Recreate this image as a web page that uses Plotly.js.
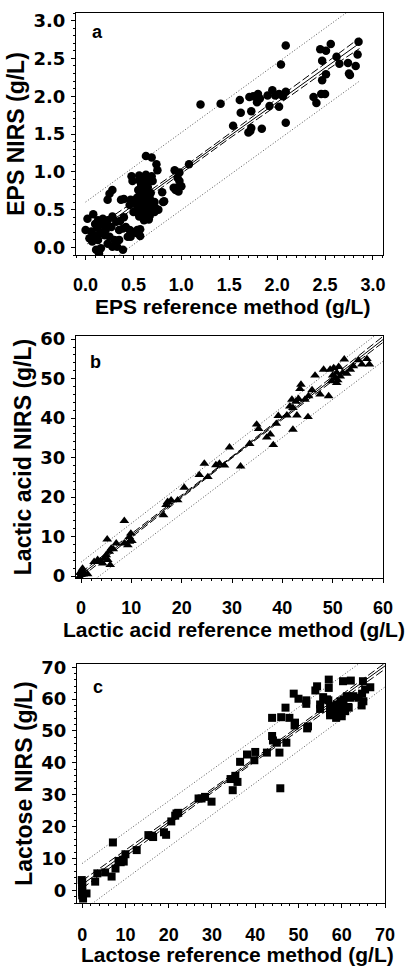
<!DOCTYPE html>
<html><head><meta charset="utf-8">
<script src="https://cdn.plot.ly/plotly-3.0.1.min.js"></script>
<style>html,body{margin:0;padding:0;background:#fff}#chart{width:407px;height:967px}</style>
</head><body><div id="chart"></div>
<script>
// ---------- Panel a: EPS ----------
const epsRef = [1.20,1.41,1.61,1.62,1.54,1.71,1.75,1.80,1.82,1.79,1.90,1.95,1.98,2.02,2.06,2.09,1.92,2.02,1.73,1.84,1.73,1.72,1.70,2.09,2.09,2.04,2.45,2.51,2.56,2.85,2.84,2.62,2.65,2.74,2.82,2.47,2.51,2.47,2.75,2.76,2.38,2.46,2.50,2.41,
1.08,0.93,0.98,0.96,0.98,0.92,0.95,0.97,1.00,0.94,
0.63,0.69,0.74,0.75,0.25,0.23,0.28,0.37,0.46,0.47,0.55,0.58,0.61,0.56,0.65,0.60,0.63,0.58,0.54,0.60,0.65,0.63,0.68,0.72,0.67,0.61,0.56,0.53,0.50,0.68,0.67,0.72,0.81,0.69,
0.02,0.00,0.06,0.09,0.04,0.07,0.13,0.16,0.16,0.13,0.18,0.23,0.28,0.32,0.27,0.21,0.20,0.25,0.30,0.23,0.16,0.28,0.35,0.39,0.42,0.46,0.44,0.35,0.33,0.39,0.11,0.14,0.54,0.47,
0.40,0.48,0.52,0.54,0.48,0.49,0.82,0.80,
0.57,0.60,0.62,0.64,0.66,0.59,0.62,0.57,0.70,0.64,0.60,0.67,0.70,0.56,0.63,0.66,0.58,0.55,0.73,0.76,
0.40,0.36,0.47,0.53,0.57,0.57,0.62,0.66,0.12,0.22,0.10,0.08];
const epsNirs = [1.89,1.90,1.95,1.78,1.61,1.99,2.00,2.03,1.97,1.92,2.01,2.08,2.01,2.03,2.00,2.06,1.87,1.86,1.80,1.57,1.58,1.54,1.52,1.65,2.67,2.42,2.62,2.60,2.69,2.72,2.55,2.52,2.43,2.44,2.40,2.47,2.29,2.21,2.30,2.28,1.99,2.03,2.03,1.91,
1.10,1.02,0.99,0.92,0.88,0.79,0.79,0.74,0.81,0.76,
1.21,1.19,1.10,1.02,0.71,0.63,0.76,0.63,0.56,0.63,0.76,0.83,0.87,0.89,0.80,0.67,0.69,0.61,0.54,0.52,0.56,0.47,0.49,0.47,0.42,0.36,0.41,0.47,0.47,0.72,0.65,0.60,0.60,0.94,
0.38,0.23,0.21,0.16,0.12,0.08,0.10,0.19,0.30,0.36,0.38,0.36,0.41,0.34,0.27,0.23,0.16,0.14,0.10,0.05,-0.01,0.01,0.23,0.25,0.27,0.23,0.14,0.10,0.01,-0.03,-0.03,-0.08,0.23,0.14,
0.64,0.59,0.63,0.66,0.94,0.88,0.61,0.73,
0.72,0.78,0.75,0.62,0.70,0.57,0.55,0.64,0.55,0.84,0.92,0.92,0.88,0.95,0.96,0.52,0.45,0.58,0.52,0.50,
0.40,0.35,0.22,0.19,0.24,0.15,0.41,0.37,0.26,0.30,0.31,0.44];
const epsLineX = [0.02,0.5,1.0,1.5,2.0,2.5,2.86];
const epsFit = [0.12,0.56,1.01,1.47,1.92,2.38,2.70];
const epsCiUp = [0.19,0.60,1.04,1.50,1.96,2.43,2.77];
const epsCiLo = [0.05,0.52,0.98,1.44,1.88,2.33,2.63];
const epsPiX = [0.0,2.86];
const epsPiUp = [0.60,3.23];
const epsPiLo = [-0.42,2.20];

// ---------- Panel b: Lactic acid ----------
const lacRef = [0.3,0.0,-0.3,0.7,1.3,0.0,0.4,-0.2,
2.6,3.3,4.0,4.3,4.6,5.0,5.3,5.6,6.0,5.8,5.2,7.0,8.6,9.6,9.6,9.3,8.6,6.4,3.8,10.1,9.9,
16.4,16.9,17.2,17.9,19.2,20.5,23.5,24.5,25.2,26.8,27.5,28.5,29.5,31.7,
33.5,34.9,35.3,36.9,37.6,38.2,38.8,39.2,40.9,41.5,42.1,41.9,42.7,43.2,42.1,42.9,43.5,43.7,44.5,45.2,45.1,45.9,46.5,48.2,49.2,49.5,50.2,50.8,51.5,50.5,49.8,50.8,52.3,53.5,54.1,55.1,55.8,56.8,57.3,51.0,52.0,50.0,51.2,52.8,47.5];
const lacNirs = [1.9,1.1,-0.2,0.7,0.5,0.3,0.4,0.8,
3.6,4.1,3.6,3.2,4.5,5.3,4.1,6.2,7.0,2.8,9.3,8.3,8.3,8.7,9.9,7.8,14.0,6.8,3.6,8.9,10.8,
15.4,18.0,18.8,19.2,19.2,22.4,25.6,28.5,25.1,28.1,28.5,28.0,32.6,27.8,
33.5,38.4,37.3,35.1,35.9,33.2,38.6,40.6,40.7,43.0,42.6,44.7,44.2,44.9,37.1,40.7,47.4,48.5,44.7,45.6,40.3,47.1,50.8,52.3,45.6,52.3,52.7,51.5,50.6,50.2,49.4,48.9,54.9,52.3,53.2,54.7,53.6,55.0,53.6,49.6,51.5,50.8,53.0,51.3,46.0];
const lacLineX = [0,30,60];
const lacFit = [0.3,30.1,59.9];
const lacCiUp = [0.9,30.3,60.7];
const lacCiLo = [-0.3,29.9,59.2];
const lacPiX = [0,60];
const lacPiUp = [3.5,62.5];
const lacPiLo = [-3.5,54.4];

// ---------- Panel c: Lactose ----------
const lctRef = [0,0,0,0,0,0.2,1.0,-0.1,
3.0,3.5,5.3,6.8,7.1,7.7,8.4,8.9,9.4,10.0,9.6,
12.6,15.3,16.1,16.4,18.9,19.4,20.6,21.8,22.2,21.5,26.9,27.6,28.4,29.9,34.3,34.8,35.4,35.9,36.5,38.1,39.8,40.0,42.7,
43.9,43.9,44.1,45.0,45.6,45.8,46.0,47.2,47.0,47.9,48.9,49.1,49.2,50.0,51.8,51.8,52.2,52.0,54.3,53.9,55.0,55.7,56.6,57.0,57.0,
57.3,58.1,58.9,59.7,60.4,61.2,62.0,62.7,57.3,58.1,59.0,60.0,60.8,61.6,58.7,59.7,60.3,62.1,64.9,63.9,64.7,65.4,66.6,65.0,56.9,55.0,57.3,60.0,61.5,64.6];
const lctNirs = [2.6,1.6,0.5,-0.6,-1.6,-2.6,-1.0,3.2,
2.7,5.3,5.6,4.3,15.0,6.8,9.2,8.8,9.6,11.3,9.0,
12.6,17.3,17.1,16.7,18.2,17.4,21.6,24.1,24.3,23.4,28.8,28.8,29.3,27.8,34.9,31.4,35.9,34.0,40.3,42.6,40.8,43.4,43.2,
54.1,48.4,47.0,46.3,43.2,32.0,54.3,46.3,57.3,54.1,61.7,51.7,52.6,60.1,59.6,58.5,51.4,50.8,64.0,62.7,58.3,60.6,59.9,66.1,63.5,
57.8,57.3,58.3,59.3,59.9,60.9,60.4,60.9,55.7,55.2,56.2,54.6,56.2,57.3,54.1,56.7,65.6,65.8,65.6,60.4,61.7,63.0,63.7,59.3,59.6,56.9,54.9,58.0,57.5,58.0];
const lctLineX = [0,35,70];
const lctFit = [1.8,36.1,70.4];
const lctCiUp = [3.0,36.6,71.3];
const lctCiLo = [0.6,35.6,69.4];
const lctPiX = [0,70];
const lctPiUp = [8.4,77.0];
const lctPiLo = [-6.5,63.8];

// ---------- Texts ----------
const xTitles = ['EPS reference method (g/L)', 'Lactic acid reference method (g/L)', 'Lactose reference method (g/L)'];
const yTitles = ['EPS NIRS (g/L)', 'Lactic acid NIRS (g/L)', 'Lactose NIRS (g/L)'];
const panelLabels = ['a', 'b', 'c'];

const F = 'Liberation Sans, Arial, sans-serif';
const FY = 'DejaVu Sans, sans-serif';
const W = 407, H = 967;

function lineTrace(x, y, xa, ya, dash, color){
  return {x, y, xaxis:xa, yaxis:ya, type:'scatter', mode:'lines', hoverinfo:'skip',
    line:{color:color||'#000', width:1, dash:dash}, showlegend:false};
}
function pts(x, y, xa, ya, sym, size){
  return {x, y, xaxis:xa, yaxis:ya, type:'scatter', mode:'markers', showlegend:false,
    marker:{symbol:sym, size:size, color:'#000', line:{width:0}}};
}
const dashed = '8px,3px';
const dotted = '1px,2px';
const traces = [
  lineTrace(epsPiX, epsPiUp, 'x', 'y', dotted, '#555'),
  lineTrace(epsPiX, epsPiLo, 'x', 'y', dotted, '#555'),
  lineTrace(epsLineX, epsCiUp, 'x', 'y', dashed),
  lineTrace(epsLineX, epsCiLo, 'x', 'y', dashed),
  lineTrace(epsLineX, epsFit, 'x', 'y', 'solid'),
  pts(epsRef, epsNirs, 'x', 'y', 'circle', 8.5),

  lineTrace(lacPiX, lacPiUp, 'x2', 'y2', dotted, '#555'),
  lineTrace(lacPiX, lacPiLo, 'x2', 'y2', dotted, '#555'),
  lineTrace(lacLineX, lacCiUp, 'x2', 'y2', dashed),
  lineTrace(lacLineX, lacCiLo, 'x2', 'y2', dashed),
  lineTrace(lacLineX, lacFit, 'x2', 'y2', 'solid'),
  pts(lacRef, lacNirs, 'x2', 'y2', 'triangle-up', 8.5),

  lineTrace(lctPiX, lctPiUp, 'x3', 'y3', dotted, '#555'),
  lineTrace(lctPiX, lctPiLo, 'x3', 'y3', dotted, '#555'),
  lineTrace(lctLineX, lctCiUp, 'x3', 'y3', dashed),
  lineTrace(lctLineX, lctCiLo, 'x3', 'y3', dashed),
  lineTrace(lctLineX, lctFit, 'x3', 'y3', 'solid'),
  pts(lctRef, lctNirs, 'x3', 'y3', 'square', 8)
];

function tfont(s, fam){ return {family:fam||F, size:s, color:'#000', weight:'bold'}; }
const minorOf = d => ({dtick:d, ticks:'outside', ticklen:2, tickcolor:'#000'});
function axis(o){
  return Object.assign({
    showgrid:false, zeroline:false, showline:true, linecolor:'#000', linewidth:1, mirror:true,
    ticks:'outside', ticklen:4, tickwidth:1, tickcolor:'#000', tick0:0,
    automargin:false, fixedrange:true
  }, o);
}
const xt = tfont(18, F), yt = tfont(18, FY);

function ann(text, x, y, size, extra){
  return Object.assign({text, x:x/W, y:1-y/H, xref:'paper', yref:'paper', showarrow:false,
    font:tfont(size), xanchor:'center', yanchor:'middle'}, extra||{});
}

const layout = {
  width:W, height:H, margin:{l:0,r:0,t:0,b:0}, paper_bgcolor:'#fff', plot_bgcolor:'#fff', showlegend:false,
  xaxis: axis({domain:[76/W,382.5/W], anchor:'y', range:[-0.1,3.1], dtick:0.5, tickformat:'.1f', minor:minorOf(0.1), ticklabelstandoff:9, tickfont:xt}),
  yaxis: axis({domain:[1-255/H,1-13/H], anchor:'x', range:[-0.1,3.1], dtick:0.5, tickformat:'.1f', minor:minorOf(0.1), ticklabelstandoff:2, tickfont:yt,
    title:{text:yTitles[0], font:tfont(23), standoff:2}}),
  xaxis2: axis({domain:[76/W,383/W], anchor:'y2', range:[-1,60], dtick:10, minor:minorOf(2), ticklabelstandoff:9, tickfont:xt}),
  yaxis2: axis({domain:[1-578/H,1-336/H], anchor:'x2', range:[-0.5,60.8], dtick:10, minor:minorOf(2), ticklabelstandoff:2, tickfont:yt,
    title:{text:yTitles[1], font:tfont(23), standoff:2}}),
  xaxis3: axis({domain:[77/W,385/W], anchor:'y3', range:[-1.2,70], dtick:10, minor:minorOf(2), ticklabelstandoff:11, tickfont:xt}),
  yaxis3: axis({domain:[1-903/H,1-664/H], anchor:'x3', range:[-4,71], dtick:10, minor:minorOf(2), ticklabelstandoff:2, tickfont:yt,
    title:{text:yTitles[2], font:tfont(23), standoff:2}}),
  annotations:[
    ann(xTitles[0], 232, 306, 21),
    ann(xTitles[1], 234, 629, 21),
    ann(xTitles[2], 238, 954, 21),
    ann(panelLabels[0], 97, 32, 18),
    ann(panelLabels[1], 95, 362, 18),
    ann(panelLabels[2], 98, 687, 18)
  ]
};
Plotly.newPlot('chart', traces, layout, {staticPlot:true, displayModeBar:false});
</script>
</body></html>
